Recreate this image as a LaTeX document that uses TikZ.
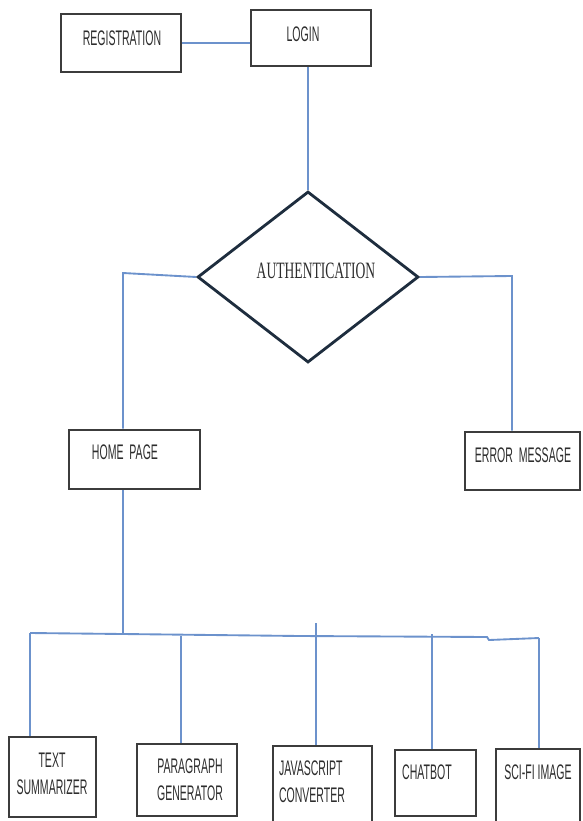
\documentclass[tikz,border=0pt]{standalone}
\usepackage{fontspec}
\usetikzlibrary{shapes.geometric}
\newfontfamily\boxfont[FakeStretch=0.5]{Liberation Sans}
\newfontfamily\authfont[FakeStretch=0.58]{Liberation Serif}
\definecolor{linkblue}{RGB}{108,146,204}
\definecolor{boxgray}{RGB}{60,60,60}
\definecolor{diamondnavy}{RGB}{30,45,62}
\definecolor{textgray}{RGB}{45,45,45}
\tikzset{
  box/.style={draw=boxgray, line width=2.2pt, rectangle, inner sep=0pt},
  decision/.style={draw=diamondnavy, line width=2.4pt, diamond, inner sep=0pt},
  boxtext/.style={inner sep=0pt, text=textgray, font=\boxfont\fontsize{18}{23}\selectfont},
  authtext/.style={inner sep=0pt, text=textgray, font=\authfont\fontsize{20}{24}\selectfont},
  link/.style={draw=linkblue, line width=1.6pt}
}
\begin{document}
\begin{tikzpicture}[x=0.03cm,y=-0.03cm]
  \useasboundingbox (0,0) rectangle (582,821);
  % boxes
  \draw
    (121,43) node[box, minimum width=3.6cm, minimum height=1.74cm] (reg){}
    (311,38) node[box, minimum width=3.6cm, minimum height=1.68cm] (login){}
    (308,277) node[decision, minimum width=6.63cm, minimum height=5.13cm] (auth){}
    (134.5,459.5) node[box, minimum width=3.93cm, minimum height=1.77cm] (home){}
    (522.5,461) node[box, minimum width=3.45cm, minimum height=1.74cm] (err){}
    (52.5,777) node[box, minimum width=2.61cm, minimum height=2.4cm] (tsum){}
    (187,780) node[box, minimum width=3.0cm, minimum height=2.16cm] (para){}
    (322.5,785) node[box, minimum width=2.97cm, minimum height=2.34cm] (js){}
    (435.5,783) node[box, minimum width=2.43cm, minimum height=1.98cm] (chat){}
    (538,786.5) node[box, minimum width=2.52cm, minimum height=2.25cm] (scifi){};
  % texts
  \node[boxtext] (regtext) at (122,38) {REGISTRATION};
  \node[boxtext] (logintext) at (303,34) {LOGIN};
  \node[authtext] (authtext) at (316,271) {AUTHENTICATION};
  \node[boxtext] (hometext) at (125,452) {HOME\ \ PAGE};
  \node[boxtext] (errtext) at (523,455) {ERROR\ \ MESSAGE};
  \node[boxtext, align=center] (tsumtext) at (52,774) {TEXT\\SUMMARIZER};
  \node[boxtext, align=center] (paratext) at (190,780) {PARAGRAPH\\GENERATOR};
  \node[boxtext, align=left] (jstext) at (312,782) {JAVASCRIPT\\CONVERTER};
  \node[boxtext] (chattext) at (427,772) {CHATBOT};
  \node[boxtext] (scifitext) at (538,772) {SCI-FI IMAGE};
  % bends and bus
  \coordinate (hl) at (123,273);
  \coordinate (er) at (512,276);
  \coordinate (bl) at (30,633);
  \coordinate (hb) at (123,634);
  \coordinate (bp) at (181,636);
  \coordinate (bm) at (300,636);
  \coordinate (bjs) at (316,623);
  \coordinate (bc) at (432,634);
  \coordinate (bk) at (487,637);
  \coordinate (bj) at (489,640);
  \coordinate (br) at (539,638);
  \begin{scope}[link]
    \draw (reg.east) to (reg.east -| login.west);
    \draw (auth.north |- login.south) to (auth.north);
    \draw (auth.west) to (hl) to (hl |- home.north);
    \draw (auth.east) to (er) to (er |- err.north);
    \draw (hb |- home.south) to (hb);
    \draw (bl) -- (hb) -- (bm) -- (bk) -- (bj) -- (br);
    \draw (bl) to (bl |- tsum.north);
    \draw (bp) to (bp |- para.north);
    \draw (bjs) to (bjs |- js.north);
    \draw (bc) to (bc |- chat.north);
    \draw (br) to (br |- scifi.north);
  \end{scope}
\end{tikzpicture}
\end{document}
